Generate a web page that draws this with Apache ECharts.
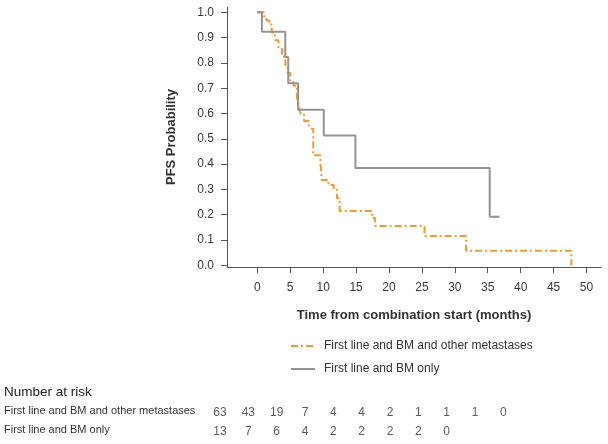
<!DOCTYPE html>
<html><head><meta charset="utf-8">
<script src="https://cdn.jsdelivr.net/npm/echarts@6/dist/echarts.min.js"></script>
<style>html,body{margin:0;padding:0;background:#fff}#c{width:608px;height:444px}</style>
</head><body><div id="c"></div>
<script>
// KM curve data: [time (months), survival probability]
const seriesNames = ['First line and BM and other metastases', 'First line and BM only'];
const otherMetsCurve = [[0,1],[1.0,0.984],[1.4,0.968],[1.8,0.952],[2.2,0.92],[2.7,0.89],[3.2,0.857],[3.75,0.825],[4.26,0.79],[4.6,0.76],[5.0,0.73],[5.5,0.71],[6.0,0.667],[6.3,0.63],[6.6,0.595],[7.1,0.57],[7.8,0.555],[8.05,0.54],[8.5,0.435],[9.6,0.4],[9.8,0.337],[10.8,0.317],[11.6,0.30],[12.1,0.265],[12.5,0.215],[17.4,0.187],[17.9,0.155],[25.4,0.116],[31.7,0.058],[47.7,0]];
const bmOnlyCurve = [[0,1],[0.7,0.923],[4.25,0.823],[4.7,0.72],[6.2,0.615],[10.1,0.513],[14.9,0.385],[35.3,0.192],[36.8,0.192]];
const xTicks = [0,5,10,15,20,25,30,35,40,45,50];
const yTicks = [0,0.1,0.2,0.3,0.4,0.5,0.6,0.7,0.8,0.9,1.0];
const riskTimes = [0,5,10,15,20,25,30,35,40,45,50];
const riskOtherMets = [63,43,19,7,4,4,2,1,1,1,0];
const riskBmOnly = [13,7,6,4,2,2,2,2,0];
const xTitle = 'Time from combination start (months)';
const yTitle = 'PFS Probability';
const riskTitle = 'Number at risk';

const chart = echarts.init(document.getElementById('c'), null, {renderer:'canvas'});
const FONT = 'Liberation Sans, Arial, sans-serif';
const axisCol = '#555';
const txtCol = '#3a3a3a';
const orange = '#f39a2e';
const gray = '#949494';

function riskData(arr,row){return arr.map((v,i)=>[riskTimes[i],row,v]);}

chart.setOption({
  animation:false,
  backgroundColor:'#fff',
  grid:[
    {left:227, top:7, width:374, height:260},
    {left:220, top:403, width:283.3, height:38}
  ],
  xAxis:[
    {type:'value', gridIndex:0, min:-4.6, max:52.2,
     splitLine:{show:false},
     axisLine:{show:true, onZero:false, lineStyle:{color:axisCol, width:1}},
     axisTick:{show:true, length:6, customValues:xTicks, lineStyle:{color:axisCol}},
     axisLabel:{customValues:xTicks, color:txtCol, fontFamily:FONT, fontSize:12, margin:15},
     name:xTitle, nameLocation:'middle', nameGap:42,
     nameTextStyle:{color:'#333', fontFamily:FONT, fontSize:13, fontWeight:'bold'}},
    {type:'value', gridIndex:1, min:0, max:50, show:false}
  ],
  yAxis:[
    {type:'value', gridIndex:0, min:-0.0067, max:1.021,
     splitLine:{show:false},
     axisLine:{show:true, onZero:false, lineStyle:{color:axisCol, width:1}},
     axisTick:{show:true, length:6, customValues:yTicks, lineStyle:{color:axisCol}},
     axisLabel:{customValues:yTicks, formatter:v=>v.toFixed(1), color:txtCol, fontFamily:FONT, fontSize:12, margin:13},
     name:yTitle, nameLocation:'middle', nameGap:49, nameRotate:90,
     nameTextStyle:{color:'#333', fontFamily:FONT, fontSize:13, fontWeight:'bold'}},
    {type:'category', gridIndex:1, data:['a','b'], inverse:true, show:false}
  ],
  legend:{
    orient:'vertical', left:285, top:335, itemWidth:24, itemHeight:14, itemGap:11,
    data:seriesNames,
    itemStyle:{opacity:0},
    textStyle:{color:'#333', fontFamily:FONT, fontSize:12, padding:[0,0,0,4]}
  },
  graphic:[
    {type:'text', left:4, top:385, style:{text:riskTitle, font:'13.5px '+FONT, fill:'#222'}},
    {type:'text', left:4, top:405, style:{text:seriesNames[0], font:'11px '+FONT, fill:'#333'}},
    {type:'text', left:4, top:424, style:{text:seriesNames[1], font:'11px '+FONT, fill:'#333'}}
  ],
  series:[
    {name:seriesNames[0], type:'line', step:'end', xAxisIndex:0, yAxisIndex:0,
     data:otherMetsCurve, showSymbol:false, symbol:'none',
     lineStyle:{color:orange, width:2, type:[7,3,2,3]}, itemStyle:{color:orange}},
    {name:seriesNames[1], type:'line', step:'end', xAxisIndex:0, yAxisIndex:0,
     data:bmOnlyCurve, showSymbol:false, symbol:'none',
     lineStyle:{color:gray, width:2}, itemStyle:{color:gray}},
    {type:'scatter', xAxisIndex:1, yAxisIndex:1, data:riskData(riskOtherMets,0), symbolSize:0,
     label:{show:true, position:'inside', formatter:p=>p.value[2], color:'#333', fontFamily:FONT, fontSize:12}},
    {type:'scatter', xAxisIndex:1, yAxisIndex:1, data:riskData(riskBmOnly,1), symbolSize:0,
     label:{show:true, position:'inside', formatter:p=>p.value[2], color:'#333', fontFamily:FONT, fontSize:12}}
  ]
});
</script></body></html>
